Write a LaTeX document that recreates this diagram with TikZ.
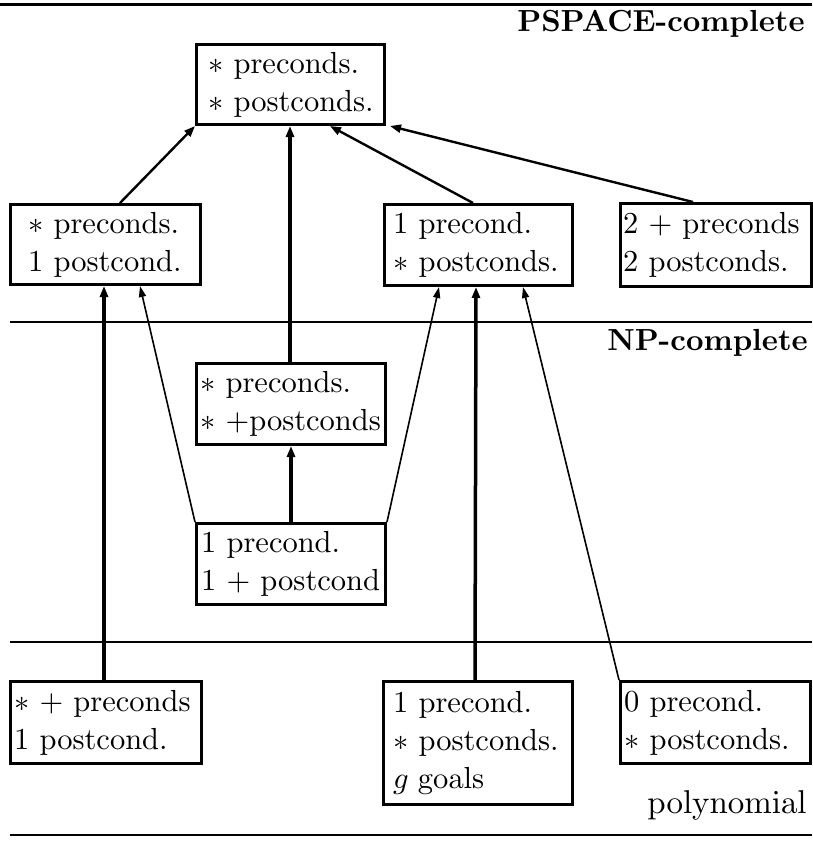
\documentclass[tikz,border=0pt]{standalone}
\usetikzlibrary{arrows.meta}
\font\rmB=cmr10 at 30.5pt
\font\bfB=cmbx10 at 30.5pt
\font\syB=cmsy10 at 30.5pt
\font\miB=cmmi10 at 30.5pt
\font\rmP=cmr10 at 33pt
\newcommand\St{{\syB\char3}}
\newcommand\Gi{{\miB g}}
\begin{document}
\begin{tikzpicture}[x=1pt,y=-1pt,
  box/.style={draw, line width=3pt, rectangle, anchor=north west, inner sep=0pt},
  txt/.style={anchor=west, inner sep=0pt, align=left, font={\rmB\baselineskip=38pt\relax}},
  lbl/.style={anchor=base east, inner sep=0pt},
  sep/.style={line width=2pt},
  thick arr/.style={line width=3.5pt, -{Triangle[length=11pt,width=8pt]}},
  mid arr/.style={line width=2.4pt, -{Triangle[length=11pt,width=8pt]}},
  thin arr/.style={line width=1.6pt, -{Triangle[length=11pt,width=7pt]}}]
\useasboundingbox (0,0) rectangle (812,841);
% separators
\draw[line width=3pt] (0,4) -- (812,4);
\draw[sep] (10,322) -- (812,322);
\draw[sep] (10,642) -- (812,642);
\draw[sep] (10,835) -- (812,835);
% labels
\node[lbl, font=\bfB] (ps) at (805,31) {PSPACE-complete};
\node[lbl, font=\bfB] (np) at (808,350) {NP-complete};
\node[lbl, font=\rmP] (poly) at (807,813) {polynomial};
% boxes
\node[box, minimum width=188pt, minimum height=80pt] (T) at (195,43) {};
\node[txt] (Tt) at ([xshift=13pt]T.west) {\St{} preconds.\\\St{} postconds.};
\node[box, minimum width=190pt, minimum height=80pt] (A) at (9,203) {};
\node[txt] (At) at ([xshift=19pt]A.west) {\St{} preconds.\\1 postcond.};
\node[box, minimum width=188pt, minimum height=81pt] (B) at (383,203) {};
\node[txt] (Bt) at ([xshift=10pt]B.west) {1 precond.\\\St{} postconds.};
\node[box, minimum width=191pt, minimum height=83pt] (C) at (619,202) {};
\node[txt] (Ct) at ([xshift=4pt]C.west) {2 + preconds\\2 postconds.};
\node[box, minimum width=189pt, minimum height=81pt] (D) at (195,362) {};
\node[txt] (Dt) at ([xshift=5pt]D.west) {\St{} preconds.\\\St{} +postconds};
\node[box, minimum width=189pt, minimum height=81pt] (E) at (195,522) {};
\node[txt] (Et) at ([xshift=6pt]E.west) {1 precond.\\1 + postcond};
\node[box, minimum width=191pt, minimum height=82pt] (F) at (9,680) {};
\node[txt] (Ft) at ([xshift=5pt]F.west) {\St{} + preconds\\1 postcond.};
\node[box, minimum width=189pt, minimum height=123pt] (G) at (382,680) {};
\node[txt] (Gt) at ([xshift=11pt]G.west) {1 precond.\\\St{} postconds.\\\Gi{} goals};
\node[box, minimum width=190pt, minimum height=82pt] (H) at (619,680) {};
\node[txt] (Ht) at ([xshift=5pt]H.west) {0 precond.\\\St{} postconds.};
% arrows
\draw[mid arr] ([xshift=111pt]A.north west) -- (T.south west);
\draw[thick arr] ([xshift=95pt]D.north west) -- ([xshift=95pt]T.south west);
\draw[mid arr] ([xshift=90pt]B.north west) -- ([xshift=135pt]T.south west);
\draw[mid arr] ([xshift=74pt]C.north west) -- ([xshift=4pt]T.south east);
\draw[thick arr] ([xshift=95pt]F.north west) -- ([xshift=95pt]A.south west);
\draw[thin arr] (E.north west) -- ([xshift=131pt]A.south west);
\draw[thick arr] (E.north) -- (D.south);
\draw[thin arr] (E.north east) -- ([xshift=56pt]B.south west);
\draw[thick arr] ([xshift=93pt]G.north west) -- ([xshift=93pt]B.south west);
\draw[thin arr] (H.north west) -- ([xshift=140pt]B.south west);
\end{tikzpicture}
\end{document}
